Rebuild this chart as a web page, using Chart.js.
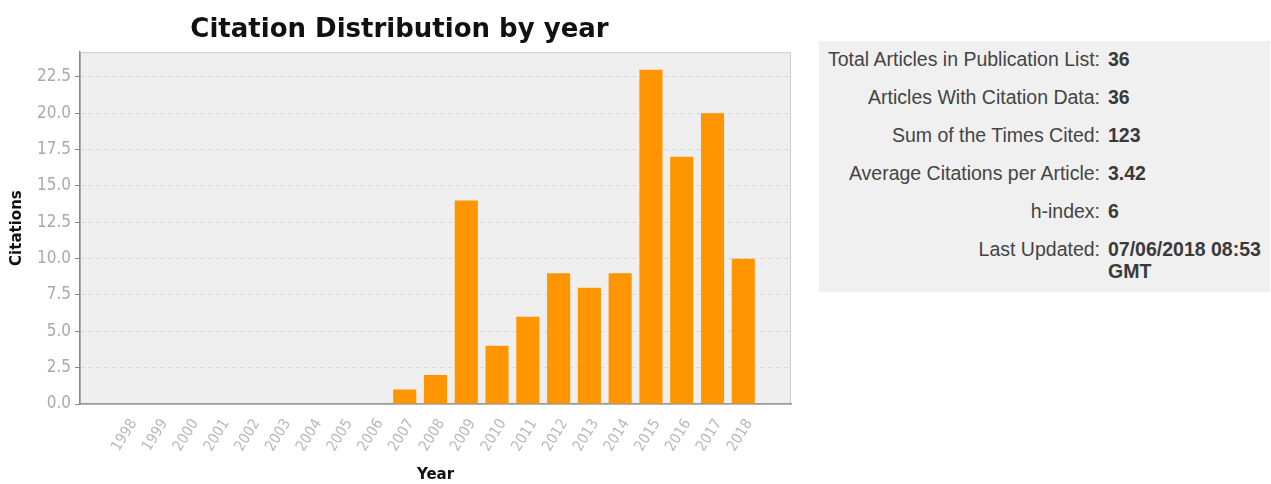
<!DOCTYPE html>
<html>
<head>
<meta charset="utf-8">
<script src="https://cdn.jsdelivr.net/npm/chart.js@4/dist/chart.umd.min.js"></script>
<style>
  body { margin: 0; background: #fff; width: 1271px; height: 484px; position: relative; overflow: hidden; }
  #chart-wrap { position: absolute; left: 0; top: 0; width: 800px; height: 484px; }
  #stats {
    position: absolute; left: 819px; top: 41px; width: 451px; height: 251px;
    background: #f0f0f0; box-sizing: border-box; padding-top: 7px;
    font-family: "Liberation Sans", Arial, sans-serif; font-size: 19.5px; line-height: 22px; color: #444;
    display: grid; grid-template-columns: 281px 162px; column-gap: 8px; row-gap: 16px; align-content: start;
  }
  #stats .lbl { text-align: right; }
  #stats .val { font-weight: bold; color: #3a3a3a; }
</style>
</head>
<body>
<div id="chart-wrap"><canvas id="citeChart"></canvas></div>
<div id="stats"></div>

<script>
// data
const years = [1998, 1999, 2000, 2001, 2002, 2003, 2004, 2005, 2006, 2007, 2008,
               2009, 2010, 2011, 2012, 2013, 2014, 2015, 2016, 2017, 2018];
const citations = [0, 0, 0, 0, 0, 0, 0, 0, 0, 1, 2,
                   14, 4, 6, 9, 8, 9, 23, 17, 20, 10];
const yTicks = [0, 2.5, 5, 7.5, 10, 12.5, 15, 17.5, 20, 22.5];

const statLabels = ['Total Articles in Publication List:', 'Articles With Citation Data:', 'Sum of the Times Cited:',
                    'Average Citations per Article:', 'h-index:', 'Last Updated:'];
const statValues = ['36', '36', '123', '3.42', '6', '07/06/2018 08:53 GMT'];

const statsDiv = document.getElementById('stats');
statLabels.forEach((label, i) => {
  const l = document.createElement('div');
  l.className = 'lbl';
  l.textContent = label;
  const v = document.createElement('div');
  v.className = 'val';
  v.textContent = statValues[i];
  statsDiv.appendChild(l);
  statsDiv.appendChild(v);
});

// plot background + light outline
const plotBg = {
  id: 'plotBg',
  beforeDraw(chart) {
    const { ctx, chartArea: a } = chart;
    ctx.save();
    ctx.fillStyle = '#efefef';
    ctx.fillRect(a.left, a.top, a.right - a.left, a.bottom - a.top);
    ctx.strokeStyle = '#cccccc';
    ctx.lineWidth = 1;
    ctx.strokeRect(a.left + 0.5, a.top + 0.5, a.right - a.left - 1, a.bottom - a.top);
    ctx.restore();
  }
};

const near = (a, b) => Math.abs(a - b) < 1e-6;

new Chart(document.getElementById('citeChart'), {
  type: 'bar',
  data: {
    datasets: [{
      label: 'Citations',
      data: years.map((yr, i) => ({ x: yr, y: citations[i] })),
      backgroundColor: '#ff9500',
      borderWidth: 0,
      barPercentage: 0.75,
      categoryPercentage: 1
    }]
  },
  plugins: [plotBg],
  options: {
    responsive: true,
    maintainAspectRatio: false,
    animation: false,
    layout: { padding: { left: 8, right: 9, top: 0, bottom: 0 } },
    plugins: {
      legend: { display: false },
      tooltip: { enabled: false },
      title: {
        display: true,
        text: 'Citation Distribution by year',
        color: '#111',
        font: { family: 'DejaVu Sans', size: 26, weight: 'bold', lineHeight: 1.2 },
        padding: { top: 15, bottom: 6 }
      }
    },
    scales: {
      x: {
        type: 'linear',
        offset: false,
        min: 1996.45,
        max: 2019.55,
        afterBuildTicks(scale) {
          scale.ticks = years.map(yr => ({ value: yr }));
        },
        afterFit(scale) { scale.height = 80; },
        ticks: {
          stepSize: 1,
          autoSkip: false,
          maxRotation: 58,
          minRotation: 58,
          color: '#b8b8b8',
          font: { family: 'DejaVu Sans Condensed', size: 15 },
          padding: 4,
          labelOffset: 6,
          callback: v => String(v)
        },
        grid: { display: false },
        border: { color: '#999999', width: 1.5 },
        title: {
          display: true,
          text: 'Year',
          color: '#111',
          font: { family: 'DejaVu Sans', size: 15, weight: 'bold' },
          padding: { top: 0, bottom: 0 }
        }
      },
      y: {
        min: 0,
        max: 24.2,
        afterBuildTicks(scale) {
          scale.ticks = scale.ticks.filter(t => yTicks.some(v => near(v, t.value)));
        },
        afterFit(scale) { scale.width = 72; },
        ticks: {
          stepSize: 2.5,
          color: '#aaaaaa',
          font: { family: 'DejaVu Sans Condensed', size: 17 },
          padding: 4,
          callback: v => v.toFixed(1)
        },
        grid: {
          color: '#d6d6d6',
          tickColor: '#888',
          tickLength: 5,
          tickBorderDash: [],
          drawTicks: true
        },
        border: { color: '#888888', width: 1.5, dash: [4, 4] },
        title: {
          display: true,
          text: 'Citations',
          color: '#111',
          font: { family: 'DejaVu Sans', size: 15, weight: 'bold' },
          padding: { top: 0, bottom: 0 }
        }
      }
    }
  }
});
</script>
</body>
</html>
